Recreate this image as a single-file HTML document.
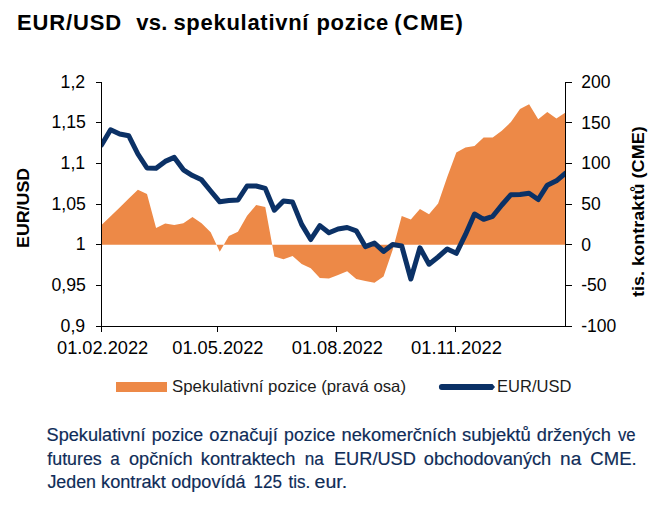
<!DOCTYPE html>
<html><head><meta charset="utf-8"><style>
html,body{margin:0;padding:0;background:#fff;}
body{width:662px;height:505px;overflow:hidden;}
svg{display:block;}
text{font-family:"Liberation Sans",sans-serif;}
</style></head><body>
<svg width="662" height="505" viewBox="0 0 662 505">
<path d="M101.5,244.67 L101.5,225 110.6,216.2 119.7,207.4 128.79,198.5 137.89,189.7 146.99,193.9 156.09,228 165.19,223.4 174.28,225.1 183.38,223.2 192.48,217 201.58,223.2 210.68,232.3 219.77,251.7 228.87,235.9 237.97,231.8 247.07,215.8 256.17,205 265.26,207 274.36,256.5 283.46,259.2 292.56,256.1 301.66,264 310.75,268.2 319.85,278 328.95,278.5 338.05,274.9 347.15,271.2 356.25,279.1 365.34,280.9 374.44,282.7 383.54,276.5 392.64,250 401.74,216 410.83,219.6 419.93,208.9 429.03,214.3 438.13,203.5 447.23,177 456.32,152.6 465.42,147.6 474.52,146 483.62,137.5 492.72,137.6 501.81,130.8 510.91,122 520.01,109 529.11,104.3 538.21,119.2 547.3,112 556.4,118.5 565.5,112.4 L565.5,244.67 Z" fill="#ED8947"/>
<clipPath id="pc"><rect x="101" y="60" width="465" height="280"/></clipPath>
<polyline clip-path="url(#pc)" points="101.5,145 110.6,129.8 119.7,134 128.79,135.8 137.89,154 146.99,168 156.09,168.3 165.19,161.4 174.28,157.4 183.38,169.8 192.48,175.6 201.58,179.8 210.68,191 219.77,201.8 228.87,200.6 237.97,200 247.07,186 256.17,186 265.26,188.4 274.36,210.2 283.46,201.1 292.56,202.1 301.66,224.4 310.75,239.5 319.85,225.6 328.95,232.8 338.05,229 347.15,227.5 356.25,230.8 365.34,246.6 374.44,243.1 383.54,251.4 392.64,244.5 401.74,246 410.83,279 419.93,247.8 429.03,264.2 438.13,257 447.23,249 456.32,253.3 465.42,234.7 474.52,214 483.62,219.3 492.72,216.3 501.81,205 510.91,194.7 520.01,194.4 529.11,193.3 538.21,199.5 547.3,185.2 556.4,180.8 565.5,173.2" fill="none" stroke="#0B3166" stroke-width="5" stroke-linejoin="round" stroke-linecap="round"/>
<path d="M101.5,82 V326.5 H565.5 M565.5,82 V326.5 M96,82.5 H101.5 M565.5,82.5 H572 M96,122.5 H101.5 M565.5,122.5 H572 M96,163.5 H101.5 M565.5,163.5 H572 M96,204.5 H101.5 M565.5,204.5 H572 M96,244.5 H101.5 M565.5,244.5 H572 M96,285.5 H101.5 M565.5,285.5 H572 M96,326.5 H101.5 M565.5,326.5 H572 M101.5,326.5 V332 M217.5,326.5 V332 M336.5,326.5 V332 M455.5,326.5 V332" stroke="#000" stroke-width="1" fill="none" shape-rendering="crispEdges"/>
<rect x="116" y="382" width="51" height="10" fill="#ED8947"/>
<path d="M441.8,384.1 H492.5 L495,387 L492.5,389.9 H441.8 A2.9,2.9 0 0 1 441.8,384.1 Z" fill="#0B3166"/>
<text x="17" y="29.8" style="font-size:22px;font-weight:bold;letter-spacing:0.850px" fill="#000">EUR/USD</text>
<text x="136.3" y="29.8" style="font-size:22px;font-weight:bold;letter-spacing:0.200px" fill="#000">vs.</text>
<text x="173.4" y="29.8" style="font-size:22px;font-weight:bold;letter-spacing:0.718px" fill="#000">spekulativní</text>
<text x="316.5" y="29.8" style="font-size:22px;font-weight:bold;letter-spacing:0.680px" fill="#000">pozice</text>
<text x="394.3" y="29.8" style="font-size:22px;font-weight:bold;letter-spacing:1.250px" fill="#000">(CME)</text>
<text x="60.56" y="87.7" textLength="24.57" lengthAdjust="spacingAndGlyphs" style="font-size:17.5px;font-weight:normal" fill="#000">1,2</text>
<text x="51.47" y="128.37" textLength="34.4" lengthAdjust="spacingAndGlyphs" style="font-size:17.5px;font-weight:normal" fill="#000">1,15</text>
<text x="60.56" y="169.03" textLength="24.57" lengthAdjust="spacingAndGlyphs" style="font-size:17.5px;font-weight:normal" fill="#000">1,1</text>
<text x="51.47" y="209.7" textLength="34.4" lengthAdjust="spacingAndGlyphs" style="font-size:17.5px;font-weight:normal" fill="#000">1,05</text>
<text x="75.71" y="250.37" textLength="9.83" lengthAdjust="spacingAndGlyphs" style="font-size:17.5px;font-weight:normal" fill="#000">1</text>
<text x="51.47" y="291.03" textLength="34.4" lengthAdjust="spacingAndGlyphs" style="font-size:17.5px;font-weight:normal" fill="#000">0,95</text>
<text x="60.56" y="331.7" textLength="24.57" lengthAdjust="spacingAndGlyphs" style="font-size:17.5px;font-weight:normal" fill="#000">0,9</text>
<text x="581.2" y="87.9" textLength="29.2" lengthAdjust="spacingAndGlyphs" style="font-size:17.5px;font-weight:normal" fill="#000">200</text>
<text x="581.2" y="128.57" textLength="29.2" lengthAdjust="spacingAndGlyphs" style="font-size:17.5px;font-weight:normal" fill="#000">150</text>
<text x="581.2" y="169.23" textLength="29.2" lengthAdjust="spacingAndGlyphs" style="font-size:17.5px;font-weight:normal" fill="#000">100</text>
<text x="581.2" y="209.9" textLength="19.47" lengthAdjust="spacingAndGlyphs" style="font-size:17.5px;font-weight:normal" fill="#000">50</text>
<text x="581.2" y="250.57" textLength="9.73" lengthAdjust="spacingAndGlyphs" style="font-size:17.5px;font-weight:normal" fill="#000">0</text>
<text x="581.2" y="291.23" textLength="25.3" lengthAdjust="spacingAndGlyphs" style="font-size:17.5px;font-weight:normal" fill="#000">-50</text>
<text x="581.2" y="331.9" textLength="35.03" lengthAdjust="spacingAndGlyphs" style="font-size:17.5px;font-weight:normal" fill="#000">-100</text>
<text x="57.06" y="353.6" textLength="91.16" lengthAdjust="spacingAndGlyphs" style="font-size:17.5px;font-weight:normal" fill="#000">01.02.2022</text>
<text x="172.26" y="353.6" textLength="91.16" lengthAdjust="spacingAndGlyphs" style="font-size:17.5px;font-weight:normal" fill="#000">01.05.2022</text>
<text x="291.81" y="353.6" textLength="91.16" lengthAdjust="spacingAndGlyphs" style="font-size:17.5px;font-weight:normal" fill="#000">01.08.2022</text>
<text x="411.1" y="353.6" textLength="90.87" lengthAdjust="spacingAndGlyphs" style="font-size:17.5px;font-weight:normal" fill="#000">01.11.2022</text>
<text x="172.08" y="391.7" textLength="233.94" lengthAdjust="spacingAndGlyphs" style="font-size:16.5px;font-weight:normal" fill="#1c1c1c">Spekulativní pozice (pravá osa)</text>
<text x="497" y="391.7" textLength="74.37" lengthAdjust="spacingAndGlyphs" style="font-size:16.5px;font-weight:normal" fill="#1c1c1c">EUR/USD</text>
<text x="46.56" y="440.5" textLength="98.89" lengthAdjust="spacingAndGlyphs" style="font-size:17.5px;font-weight:normal" fill="#0F2C58" stroke="#0F2C58" stroke-width="0.18">Spekulativní</text>
<text x="151.68" y="440.5" textLength="51.42" lengthAdjust="spacingAndGlyphs" style="font-size:17.5px;font-weight:normal" fill="#0F2C58" stroke="#0F2C58" stroke-width="0.18">pozice</text>
<text x="209.35" y="440.5" textLength="68.45" lengthAdjust="spacingAndGlyphs" style="font-size:17.5px;font-weight:normal" fill="#0F2C58" stroke="#0F2C58" stroke-width="0.18">označují</text>
<text x="284.09" y="440.5" textLength="51.21" lengthAdjust="spacingAndGlyphs" style="font-size:17.5px;font-weight:normal" fill="#0F2C58" stroke="#0F2C58" stroke-width="0.18">pozice</text>
<text x="341.45" y="440.5" textLength="115.11" lengthAdjust="spacingAndGlyphs" style="font-size:17.5px;font-weight:normal" fill="#0F2C58" stroke="#0F2C58" stroke-width="0.18">nekomerčních</text>
<text x="462.05" y="440.5" textLength="68.71" lengthAdjust="spacingAndGlyphs" style="font-size:17.5px;font-weight:normal" fill="#0F2C58" stroke="#0F2C58" stroke-width="0.18">subjektů</text>
<text x="536.76" y="440.5" textLength="74.1" lengthAdjust="spacingAndGlyphs" style="font-size:17.5px;font-weight:normal" fill="#0F2C58" stroke="#0F2C58" stroke-width="0.18">držených</text>
<text x="617.9" y="440.5" textLength="17.66" lengthAdjust="spacingAndGlyphs" style="font-size:17.5px;font-weight:normal" fill="#0F2C58" stroke="#0F2C58" stroke-width="0.18">ve</text>
<text x="47.3" y="464.6" textLength="54.41" lengthAdjust="spacingAndGlyphs" style="font-size:17.5px;font-weight:normal" fill="#0F2C58" stroke="#0F2C58" stroke-width="0.18">futures</text>
<text x="110.32" y="464.6" textLength="9.52" lengthAdjust="spacingAndGlyphs" style="font-size:17.5px;font-weight:normal" fill="#0F2C58" stroke="#0F2C58" stroke-width="0.18">a</text>
<text x="128.96" y="464.6" textLength="63.58" lengthAdjust="spacingAndGlyphs" style="font-size:17.5px;font-weight:normal" fill="#0F2C58" stroke="#0F2C58" stroke-width="0.18">opčních</text>
<text x="200.75" y="464.6" textLength="94.64" lengthAdjust="spacingAndGlyphs" style="font-size:17.5px;font-weight:normal" fill="#0F2C58" stroke="#0F2C58" stroke-width="0.18">kontraktech</text>
<text x="304.82" y="464.6" textLength="19.06" lengthAdjust="spacingAndGlyphs" style="font-size:17.5px;font-weight:normal" fill="#0F2C58" stroke="#0F2C58" stroke-width="0.18">na</text>
<text x="333.96" y="464.6" textLength="81.94" lengthAdjust="spacingAndGlyphs" style="font-size:17.5px;font-weight:normal" fill="#0F2C58" stroke="#0F2C58" stroke-width="0.18">EUR/USD</text>
<text x="423.86" y="464.6" textLength="127.37" lengthAdjust="spacingAndGlyphs" style="font-size:17.5px;font-weight:normal" fill="#0F2C58" stroke="#0F2C58" stroke-width="0.18">obchodovaných</text>
<text x="560.11" y="464.6" textLength="21.21" lengthAdjust="spacingAndGlyphs" style="font-size:17.5px;font-weight:normal" fill="#0F2C58" stroke="#0F2C58" stroke-width="0.18">na</text>
<text x="590.34" y="464.6" textLength="46.31" lengthAdjust="spacingAndGlyphs" style="font-size:17.5px;font-weight:normal" fill="#0F2C58" stroke="#0F2C58" stroke-width="0.18">CME.</text>
<text x="47.4" y="488.2" textLength="48.6" lengthAdjust="spacingAndGlyphs" style="font-size:17.5px;font-weight:normal" fill="#0F2C58" stroke="#0F2C58" stroke-width="0.18">Jeden</text>
<text x="101.06" y="488.2" textLength="64.7" lengthAdjust="spacingAndGlyphs" style="font-size:17.5px;font-weight:normal" fill="#0F2C58" stroke="#0F2C58" stroke-width="0.18">kontrakt</text>
<text x="171.27" y="488.2" textLength="74.25" lengthAdjust="spacingAndGlyphs" style="font-size:17.5px;font-weight:normal" fill="#0F2C58" stroke="#0F2C58" stroke-width="0.18">odpovídá</text>
<text x="253.53" y="488.2" textLength="28.37" lengthAdjust="spacingAndGlyphs" style="font-size:17.5px;font-weight:normal" fill="#0F2C58" stroke="#0F2C58" stroke-width="0.18">125</text>
<text x="288.5" y="488.2" textLength="21.74" lengthAdjust="spacingAndGlyphs" style="font-size:17.5px;font-weight:normal" fill="#0F2C58" stroke="#0F2C58" stroke-width="0.18">tis.</text>
<text x="314.58" y="488.2" textLength="32.66" lengthAdjust="spacingAndGlyphs" style="font-size:17.5px;font-weight:normal" fill="#0F2C58" stroke="#0F2C58" stroke-width="0.18">eur.</text>
<text transform="translate(29.4,247.95) rotate(-90)" x="0" y="0" textLength="80.09" lengthAdjust="spacingAndGlyphs" style="font-size:17px;font-weight:bold" fill="#000">EUR/USD</text>
<text transform="translate(644.1,297.1) rotate(-90)" x="0" y="0" textLength="170.9" lengthAdjust="spacingAndGlyphs" style="font-size:17px;font-weight:bold" fill="#000">tis. kontraktů (CME)</text>
</svg>
</body></html>
